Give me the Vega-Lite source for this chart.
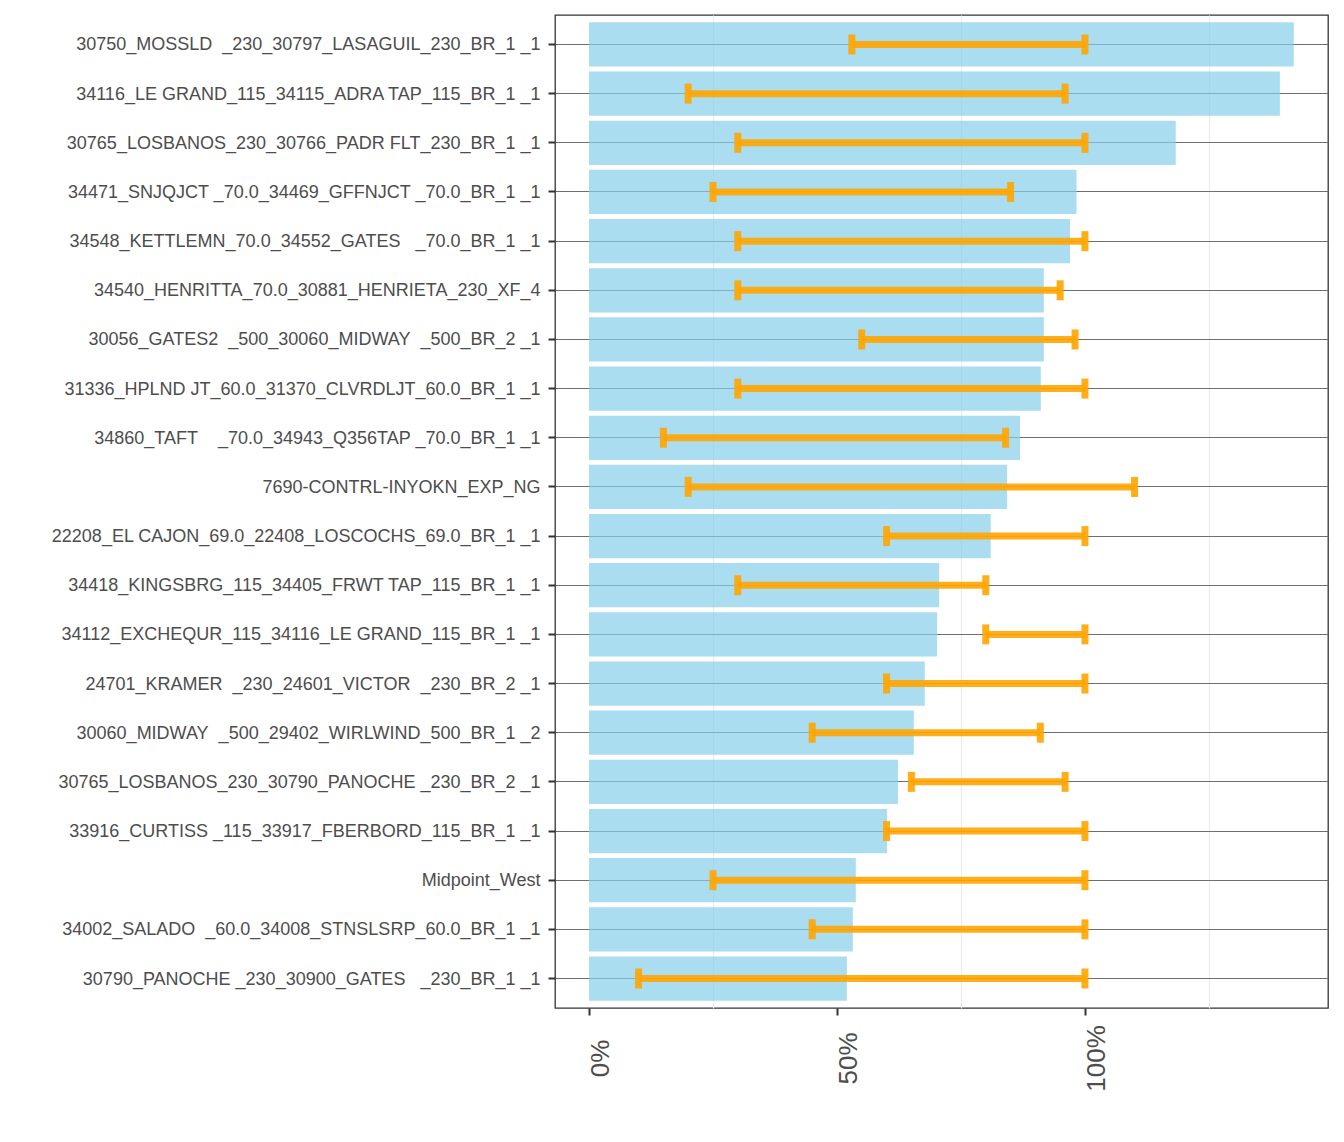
{
  "$schema": "https://vega.github.io/schema/vega-lite/v6.json",
  "width": 773,
  "height": 993,
  "autosize": "none",
  "padding": {"left": 555, "top": 15, "right": 16, "bottom": 134},
  "background": "white",
  "config": {
    "font": "Liberation Sans",
    "view": {"stroke": "#333333", "strokeWidth": 1.3}
  },
  "data": {
    "values": [
      {"constraint": "30750_MOSSLD\u00a0\u00a0_230_30797_LASAGUIL_230_BR_1 _1", "share": 1.421, "lo": 0.53, "hi": 1.0},
      {"constraint": "34116_LE GRAND_115_34115_ADRA TAP_115_BR_1 _1", "share": 1.393, "lo": 0.2, "hi": 0.96},
      {"constraint": "30765_LOSBANOS_230_30766_PADR FLT_230_BR_1 _1", "share": 1.183, "lo": 0.3, "hi": 1.0},
      {"constraint": "34471_SNJQJCT _70.0_34469_GFFNJCT _70.0_BR_1 _1", "share": 0.983, "lo": 0.25, "hi": 0.85},
      {"constraint": "34548_KETTLEMN_70.0_34552_GATES\u00a0\u00a0\u00a0_70.0_BR_1 _1", "share": 0.97, "lo": 0.3, "hi": 1.0},
      {"constraint": "34540_HENRITTA_70.0_30881_HENRIETA_230_XF_4", "share": 0.917, "lo": 0.3, "hi": 0.95},
      {"constraint": "30056_GATES2\u00a0\u00a0_500_30060_MIDWAY\u00a0\u00a0_500_BR_2 _1", "share": 0.917, "lo": 0.55, "hi": 0.98},
      {"constraint": "31336_HPLND JT_60.0_31370_CLVRDLJT_60.0_BR_1 _1", "share": 0.911, "lo": 0.3, "hi": 1.0},
      {"constraint": "34860_TAFT\u00a0\u00a0\u00a0\u00a0_70.0_34943_Q356TAP _70.0_BR_1 _1", "share": 0.869, "lo": 0.15, "hi": 0.84},
      {"constraint": "7690-CONTRL-INYOKN_EXP_NG", "share": 0.843, "lo": 0.2, "hi": 1.1},
      {"constraint": "22208_EL CAJON_69.0_22408_LOSCOCHS_69.0_BR_1 _1", "share": 0.81, "lo": 0.6, "hi": 1.0},
      {"constraint": "34418_KINGSBRG_115_34405_FRWT TAP_115_BR_1 _1", "share": 0.706, "lo": 0.3, "hi": 0.8},
      {"constraint": "34112_EXCHEQUR_115_34116_LE GRAND_115_BR_1 _1", "share": 0.702, "lo": 0.8, "hi": 1.0},
      {"constraint": "24701_KRAMER\u00a0\u00a0_230_24601_VICTOR\u00a0\u00a0_230_BR_2 _1", "share": 0.677, "lo": 0.6, "hi": 1.0},
      {"constraint": "30060_MIDWAY\u00a0\u00a0_500_29402_WIRLWIND_500_BR_1 _2", "share": 0.655, "lo": 0.45, "hi": 0.91},
      {"constraint": "30765_LOSBANOS_230_30790_PANOCHE _230_BR_2 _1", "share": 0.623, "lo": 0.65, "hi": 0.96},
      {"constraint": "33916_CURTISS _115_33917_FBERBORD_115_BR_1 _1", "share": 0.601, "lo": 0.6, "hi": 1.0},
      {"constraint": "Midpoint_West", "share": 0.538, "lo": 0.25, "hi": 1.0},
      {"constraint": "34002_SALADO\u00a0\u00a0_60.0_34008_STNSLSRP_60.0_BR_1 _1", "share": 0.532, "lo": 0.45, "hi": 1.0},
      {"constraint": "30790_PANOCHE _230_30900_GATES\u00a0\u00a0\u00a0_230_BR_1 _1", "share": 0.52, "lo": 0.1, "hi": 1.0}
    ]
  },
  "encoding": {
    "y": {
      "field": "constraint",
      "type": "nominal",
      "sort": null,
      "scale": {"paddingInner": 0.1, "paddingOuter": 0.15},
      "axis": {
        "title": null,
        "domain": false,
        "labelFontSize": 18,
        "labelColor": "#4d4d4d",
        "labelLimit": 0,
        "labelPadding": 8,
        "labelBaseline": "middle",
        "labelOffset": 1,
        "tickSize": 7,
        "tickWidth": 2,
        "tickColor": "#333333",
        "grid": true,
        "gridColor": "#6e6e6e",
        "gridWidth": 1.2
      }
    }
  },
  "layer": [
    {
      "mark": {"type": "bar", "color": "#87CEEB", "opacity": 0.7},
      "encoding": {
        "x": {
          "field": "share",
          "type": "quantitative",
          "scale": {"domain": [-0.0685, 1.49], "nice": false, "zero": false},
          "axis": {
            "title": null,
            "domain": false,
            "values": [0, 0.25, 0.5, 0.75, 1, 1.25],
            "format": ".0%",
            "labelExpr": "(datum.value == 0 || datum.value == 0.5 || datum.value == 1) ? datum.label : ''",
            "labelAngle": 270,
            "labelAlign": "center",
            "labelBaseline": "top",
            "labelFontSize": 26,
            "labelColor": "#4d4d4d",
            "labelPadding": 43,
            "labelOffset": -1,
            "labelOverlap": false,
            "labelFlush": false,
            "tickSize": 7,
            "tickWidth": 2,
            "tickColor": "#333333",
            "tickOpacity": {"condition": {"test": "datum.value == 0 || datum.value == 0.5 || datum.value == 1", "value": 1}, "value": 0},
            "grid": true,
            "gridColor": "#ebebeb",
            "gridWidth": 1.2,
            "gridOpacity": {"condition": {"test": "datum.value == 0.25 || datum.value == 0.75 || datum.value == 1.25", "value": 1}, "value": 0}
          }
        }
      }
    },
    {
      "mark": {"type": "rule", "color": "#FFA500", "opacity": 0.9, "strokeWidth": 7},
      "encoding": {
        "x": {"field": "lo", "type": "quantitative"},
        "x2": {"field": "hi"}
      }
    },
    {
      "mark": {"type": "tick", "color": "#FFA500", "opacity": 0.9, "thickness": 7, "size": 20},
      "encoding": {
        "x": {"field": "lo", "type": "quantitative"}
      }
    },
    {
      "mark": {"type": "tick", "color": "#FFA500", "opacity": 0.9, "thickness": 7, "size": 20},
      "encoding": {
        "x": {"field": "hi", "type": "quantitative"}
      }
    }
  ]
}
